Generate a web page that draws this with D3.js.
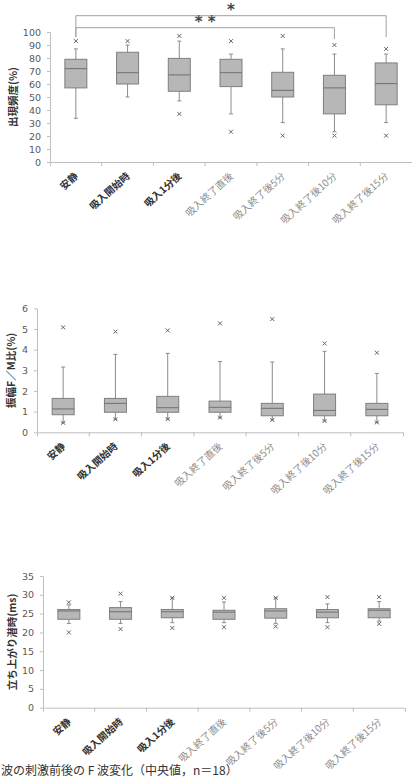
<!DOCTYPE html>
<html>
<head>
<meta charset="utf-8">
<script src="https://cdn.jsdelivr.net/npm/d3@7"></script>
<style>
  body { margin: 0; background: #fff; }
  svg { display: block; }
</style>
</head>
<body>
<script>
const categories = ['安静', '吸入開始時', '吸入1分後', '吸入終了直後', '吸入終了後5分', '吸入終了後10分', '吸入終了後15分'];

// 出現頻度 (%)
const freqLow  = [33.6, 50, 47, 37, 30.3, 23.3, 30.3];
const freqQ1   = [57, 60, 54.4, 58, 50, 37, 44];
const freqMed  = [71.8, 68.7, 67, 68.7, 55.1, 57, 60.3];
const freqQ3   = [79, 84.4, 79.7, 79, 69, 66.7, 76.2];
const freqHigh = [87, 90, 93, 83, 87, 83, 83];
const freqOut  = [[93], [93], [97, 37], [93, 23.3], [97, 20.3], [90, 20.3], [87, 20.3]];
const freqTicks = [0, 10, 20, 30, 40, 50, 60, 70, 80, 90, 100];
const freqSig = [
  { from: 0, to: 6, label: '*' },
  { from: 0, to: 5, label: '* *' }
];

// 振幅F/M比 (%)
const ratioLow  = [0.46, 0.63, 0.64, 0.71, 0.6, 0.55, 0.48];
const ratioQ1   = [0.85, 0.97, 0.97, 0.97, 0.8, 0.8, 0.8];
const ratioMed  = [1.13, 1.4, 1.19, 1.21, 1.16, 1.06, 1.11];
const ratioQ3   = [1.64, 1.64, 1.74, 1.51, 1.4, 1.85, 1.4];
const ratioHigh = [3.16, 3.77, 3.82, 3.42, 3.4, 3.92, 2.85];
const ratioOut  = [[5.08, 0.46], [4.87, 0.63], [4.93, 0.64], [5.27, 0.71], [5.48, 0.6], [4.3, 0.55], [3.85, 0.48]];
const ratioTicks = [0, 1, 2, 3, 4, 5, 6];

// 立ち上がり潜時 (ms)
const latLow  = [22.4, 22.4, 22.6, 22.6, 22.4, 22.6, 23.0];
const latQ1   = [23.5, 23.5, 23.9, 23.5, 23.8, 23.9, 23.9];
const latMed  = [25.7, 25.5, 25.5, 25.4, 25.7, 25.4, 25.9];
const latQ3   = [26.1, 26.6, 26.1, 25.9, 26.3, 26.1, 26.3];
const latHigh = [27.3, 28.2, 29.2, 28.1, 29.2, 27.6, 28.2];
const latOut  = [[28.0, 20.0], [30.3, 20.9], [29.2, 21.2], [29.2, 21.4], [29.2, 21.6], [29.4, 21.4], [29.4, 22.3]];
const latTicks = [0, 5, 10, 15, 20, 25, 30, 35];

const svg = d3.select('body').append('svg')
  .attr('width', 412)
  .attr('height', 777);

function drawPanel(p) {
  const x = d3.scaleBand().domain(categories).range([p.left, p.right]);
  const y = d3.scaleLinear().domain([0, p.ticks[p.ticks.length - 1]]).range([p.bottom, p.top]);
  const g = svg.append('g');
  const cx = (i) => x(categories[i]) + x.bandwidth() / 2;

  // y axis
  const ya = g.append('g')
    .attr('transform', `translate(${p.left},0)`)
    .call(d3.axisLeft(y).tickValues(p.ticks).tickFormat(d3.format('d'))
      .tickSize(3).tickSizeOuter(0).tickPadding(6));
  ya.select('.domain').attr('stroke', '#bfbfbf');
  ya.selectAll('.tick line').attr('stroke', '#bfbfbf');
  ya.selectAll('.tick text')
    .attr('fill', '#595959')
    .style('font-family', 'DejaVu Sans')
    .style('font-size', '9.5px');

  // x axis
  const xa = g.append('g')
    .attr('transform', `translate(0,${p.bottom})`)
    .call(d3.axisBottom(x).tickSize(0).tickSizeOuter(4).tickFormat(''));
  xa.select('.domain').attr('stroke', '#bfbfbf');
  g.selectAll('.xtick')
    .data(categories.slice(1))
    .enter()
    .append('line')
    .attr('x1', (c) => x(c))
    .attr('x2', (c) => x(c))
    .attr('y1', p.bottom)
    .attr('y2', p.bottom + 4)
    .attr('stroke', '#bfbfbf');

  // category labels
  g.selectAll('.xlabel')
    .data(categories)
    .enter()
    .append('text')
    .attr('text-anchor', 'end')
    .attr('transform', (c, i) => `translate(${cx(i) + 3},${p.bottom + 15}) rotate(-42)`)
    .style('font-family', 'Noto Sans CJK JP')
    .style('font-size', '10px')
    .style('font-weight', (c, i) => i < 3 ? 'bold' : 'normal')
    .attr('fill', (c, i) => i < 3 ? '#333' : '#8c8c8c')
    .text((c) => c);

  // y label
  g.append('text')
    .attr('text-anchor', 'middle')
    .attr('transform', `translate(${p.labelX},${(p.top + p.bottom) / 2}) rotate(-90)`)
    .attr('dy', '0.35em')
    .style('font-family', 'Noto Sans CJK JP')
    .style('font-size', '10.5px')
    .style('font-weight', 'bold')
    .attr('fill', '#333')
    .text(p.label);

  const bw = 22;
  // whiskers
  g.selectAll('.whisker')
    .data(categories)
    .enter()
    .append('path')
    .attr('d', (c, i) => `M${cx(i)},${y(p.high[i])}V${y(p.q3[i])}M${cx(i)},${y(p.q1[i])}V${y(p.low[i])}` +
      `M${cx(i) - 2},${y(p.high[i])}H${cx(i) + 2}M${cx(i) - 2},${y(p.low[i])}H${cx(i) + 2}`)
    .attr('stroke', '#8c8c8c')
    .attr('fill', 'none');

  // boxes
  g.selectAll('.box')
    .data(categories)
    .enter()
    .append('rect')
    .attr('x', (c, i) => cx(i) - bw / 2)
    .attr('y', (c, i) => y(p.q3[i]))
    .attr('width', bw)
    .attr('height', (c, i) => y(p.q1[i]) - y(p.q3[i]))
    .attr('fill', '#b7b7b7')
    .attr('stroke', '#7f7f7f');

  // medians
  g.selectAll('.median')
    .data(categories)
    .enter()
    .append('line')
    .attr('x1', (c, i) => cx(i) - bw / 2)
    .attr('x2', (c, i) => cx(i) + bw / 2)
    .attr('y1', (c, i) => y(p.med[i]))
    .attr('y2', (c, i) => y(p.med[i]))
    .attr('stroke', '#6f6f6f');

  // outliers
  const pts = [];
  p.out.forEach((vals, i) => vals.forEach((v) => pts.push({ i: i, v: v })));
  g.selectAll('.outlier')
    .data(pts)
    .enter()
    .append('path')
    .attr('transform', (d) => `translate(${cx(d.i)},${y(d.v)})`)
    .attr('d', 'M-2,-2L2,2M-2,2L2,-2')
    .attr('stroke', '#666')
    .attr('fill', 'none');

  // significance brackets
  if (p.sig) {
    const levels = [15.7, 27.7];
    const drops = [37, 39];
    p.sig.forEach((s, k) => {
      g.append('path')
        .attr('d', `M${cx(s.from)},${drops[0]}V${levels[k]}H${cx(s.to)}V${drops[k]}`)
        .attr('stroke', '#a0a0a0')
        .attr('fill', 'none');
      g.append('text')
        .attr('x', (cx(s.from) + cx(s.to)) / 2)
        .attr('y', levels[k] - 1)
        .attr('text-anchor', 'middle')
        .style('font-family', 'DejaVu Sans')
        .style('font-size', '15px')
        .style('font-weight', 'bold')
        .attr('fill', '#444')
        .text(s.label);
    });
  }
}

drawPanel({
  left: 50, right: 412, top: 32, bottom: 162, labelX: 13,
  ticks: freqTicks, label: '出現頻度(%)',
  low: freqLow, q1: freqQ1, med: freqMed, q3: freqQ3, high: freqHigh, out: freqOut,
  sig: freqSig
});

drawPanel({
  left: 37, right: 403, top: 308.3, bottom: 432.3, labelX: 11,
  ticks: ratioTicks, label: '振幅F／M比(%)',
  low: ratioLow, q1: ratioQ1, med: ratioMed, q3: ratioQ3, high: ratioHigh, out: ratioOut
});

drawPanel({
  left: 43, right: 405, top: 576, bottom: 707.7, labelX: 12,
  ticks: latTicks, label: '立ち上がり潜時(ms)',
  low: latLow, q1: latQ1, med: latMed, q3: latQ3, high: latHigh, out: latOut
});

svg.append('text')
  .attr('x', 1)
  .attr('y', 775)
  .style('font-family', 'Noto Sans CJK JP')
  .style('font-size', '12px')
  .attr('fill', '#333')
  .text('波の刺激前後の F 波変化（中央値，n＝18）');
</script>
</body>
</html>
